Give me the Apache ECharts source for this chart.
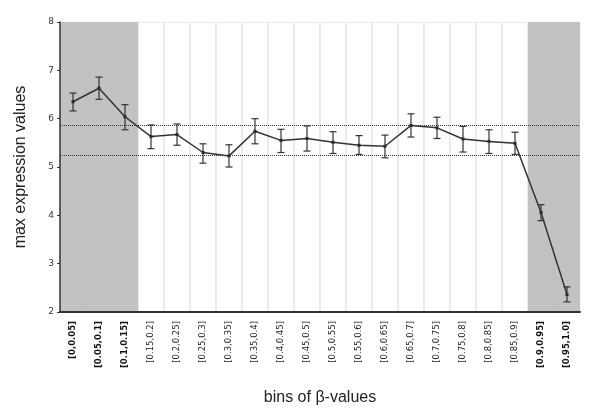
<!DOCTYPE html>
<html>
<head>
<meta charset="utf-8">
<script src="https://cdn.jsdelivr.net/npm/echarts@6/dist/echarts.min.js"></script>
<style>html,body{margin:0;padding:0;background:#fff}#c{width:600px;height:416px}</style>
</head>
<body>
<div id="c"></div>
<script>
var categories = ['[0,0.05]','[0.05,0.1]','[0.1,0.15]','[0.15,0.2]','[0.2,0.25]','[0.25,0.3]','[0.3,0.35]','[0.35,0.4]','[0.4,0.45]','[0.45,0.5]','[0.5,0.55]','[0.55,0.6]','[0.6,0.65]','[0.65,0.7]','[0.7,0.75]','[0.75,0.8]','[0.8,0.85]','[0.85,0.9]','[0.9,0.95]','[0.95,1.0]'];
var means = [6.35,6.63,6.04,5.63,5.67,5.30,5.23,5.74,5.55,5.59,5.51,5.45,5.43,5.86,5.81,5.58,5.53,5.49,4.06,2.36];
var upper = [6.53,6.86,6.29,5.87,5.89,5.48,5.46,6.00,5.78,5.85,5.73,5.65,5.66,6.10,6.03,5.84,5.77,5.72,4.22,2.52];
var lower = [6.16,6.40,5.77,5.38,5.45,5.08,5.00,5.48,5.30,5.33,5.28,5.26,5.19,5.62,5.59,5.31,5.28,5.26,3.89,2.21];
var highlighted = [true,true,true,false,false,false,false,false,false,false,false,false,false,false,false,false,false,false,true,true];
var refLines = [5.86, 5.24];
var yTicks = [2,3,4,5,6,7,8];

var yMin = yTicks[0], yMax = yTicks[yTicks.length-1];
var bandData = highlighted.map(function(h){ return h ? yMax : '-'; });
var plainData = highlighted.map(function(h){ return h ? '-' : yMax; });
var errData = categories.map(function(c,i){ return [i, lower[i], upper[i]]; });

var chart = echarts.init(document.getElementById('c'));
chart.setOption({
  animation: false,
  grid: {left: 60, right: 20, top: 22, bottom: 104},
  xAxis: {
    type: 'category', data: categories, boundaryGap: true, z: 5,
    axisLine: {lineStyle: {color: '#333', width: 2}},
    axisTick: {show: false},
    splitLine: {show: false},
    axisLabel: {
      interval: 0, rotate: 90, margin: 9, fontSize: 8.5, color: '#222', fontFamily: 'DejaVu Sans',
      formatter: function(v, i){ return highlighted[i] ? '{b|' + v + '}' : v; },
      rich: {b: {fontWeight: 'bold', fontSize: 8.5, color: '#111', fontFamily: 'DejaVu Sans'}}
    },
    name: 'bins of β-values', nameLocation: 'middle', nameGap: 78,
    nameTextStyle: {fontSize: 16, color: '#222', fontFamily: 'Liberation Sans'}
  },
  yAxis: {
    type: 'value', min: yMin, max: yMax, interval: 1, z: 5,
    axisLine: {show: true, lineStyle: {color: '#333', width: 1.5}},
    axisTick: {show: true, length: 3, lineStyle: {color: '#333'}},
    splitLine: {show: false},
    axisLabel: {fontSize: 9, color: '#333', margin: 6, fontFamily: 'DejaVu Sans'},
    name: 'max expression values', nameLocation: 'middle', nameGap: 31, nameRotate: 90,
    nameTextStyle: {fontSize: 16, color: '#222', fontFamily: 'Liberation Sans'}
  },
  series: [
    {
      type: 'bar', data: bandData, barWidth: '100%', barGap: '-100%', z: 1, silent: true,
      itemStyle: {color: '#c2c2c2', borderColor: '#b6b6b6', borderWidth: 0.8}
    },
    {
      type: 'bar', data: plainData, barWidth: '100%', barGap: '-100%', z: 1, silent: true,
      itemStyle: {color: '#ffffff', borderColor: '#e2e2e2', borderWidth: 0.8}
    },
    {
      type: 'line', data: means, z: 6,
      symbol: 'rect', symbolSize: 3, showSymbol: true,
      itemStyle: {color: '#222'},
      lineStyle: {color: '#333', width: 1.5},
      markLine: {
        silent: true, symbol: 'none', label: {show: false},
        lineStyle: {color: '#333', type: 'dotted', width: 1},
        data: refLines.map(function(v){ return {yAxis: v}; })
      }
    },
    {
      type: 'custom', z: 7, data: errData,
      renderItem: function(params, api){
        var x = api.value(0);
        var lo = api.coord([x, api.value(1)]);
        var hi = api.coord([x, api.value(2)]);
        var hw = 3.5;
        var st = {stroke: '#333', lineWidth: 1.2};
        return {type: 'group', children: [
          {type: 'line', shape: {x1: lo[0], y1: lo[1], x2: hi[0], y2: hi[1]}, style: st},
          {type: 'line', shape: {x1: lo[0]-hw, y1: lo[1], x2: lo[0]+hw, y2: lo[1]}, style: st},
          {type: 'line', shape: {x1: hi[0]-hw, y1: hi[1], x2: hi[0]+hw, y2: hi[1]}, style: st}
        ]};
      }
    }
  ]
});
</script>
</body>
</html>
